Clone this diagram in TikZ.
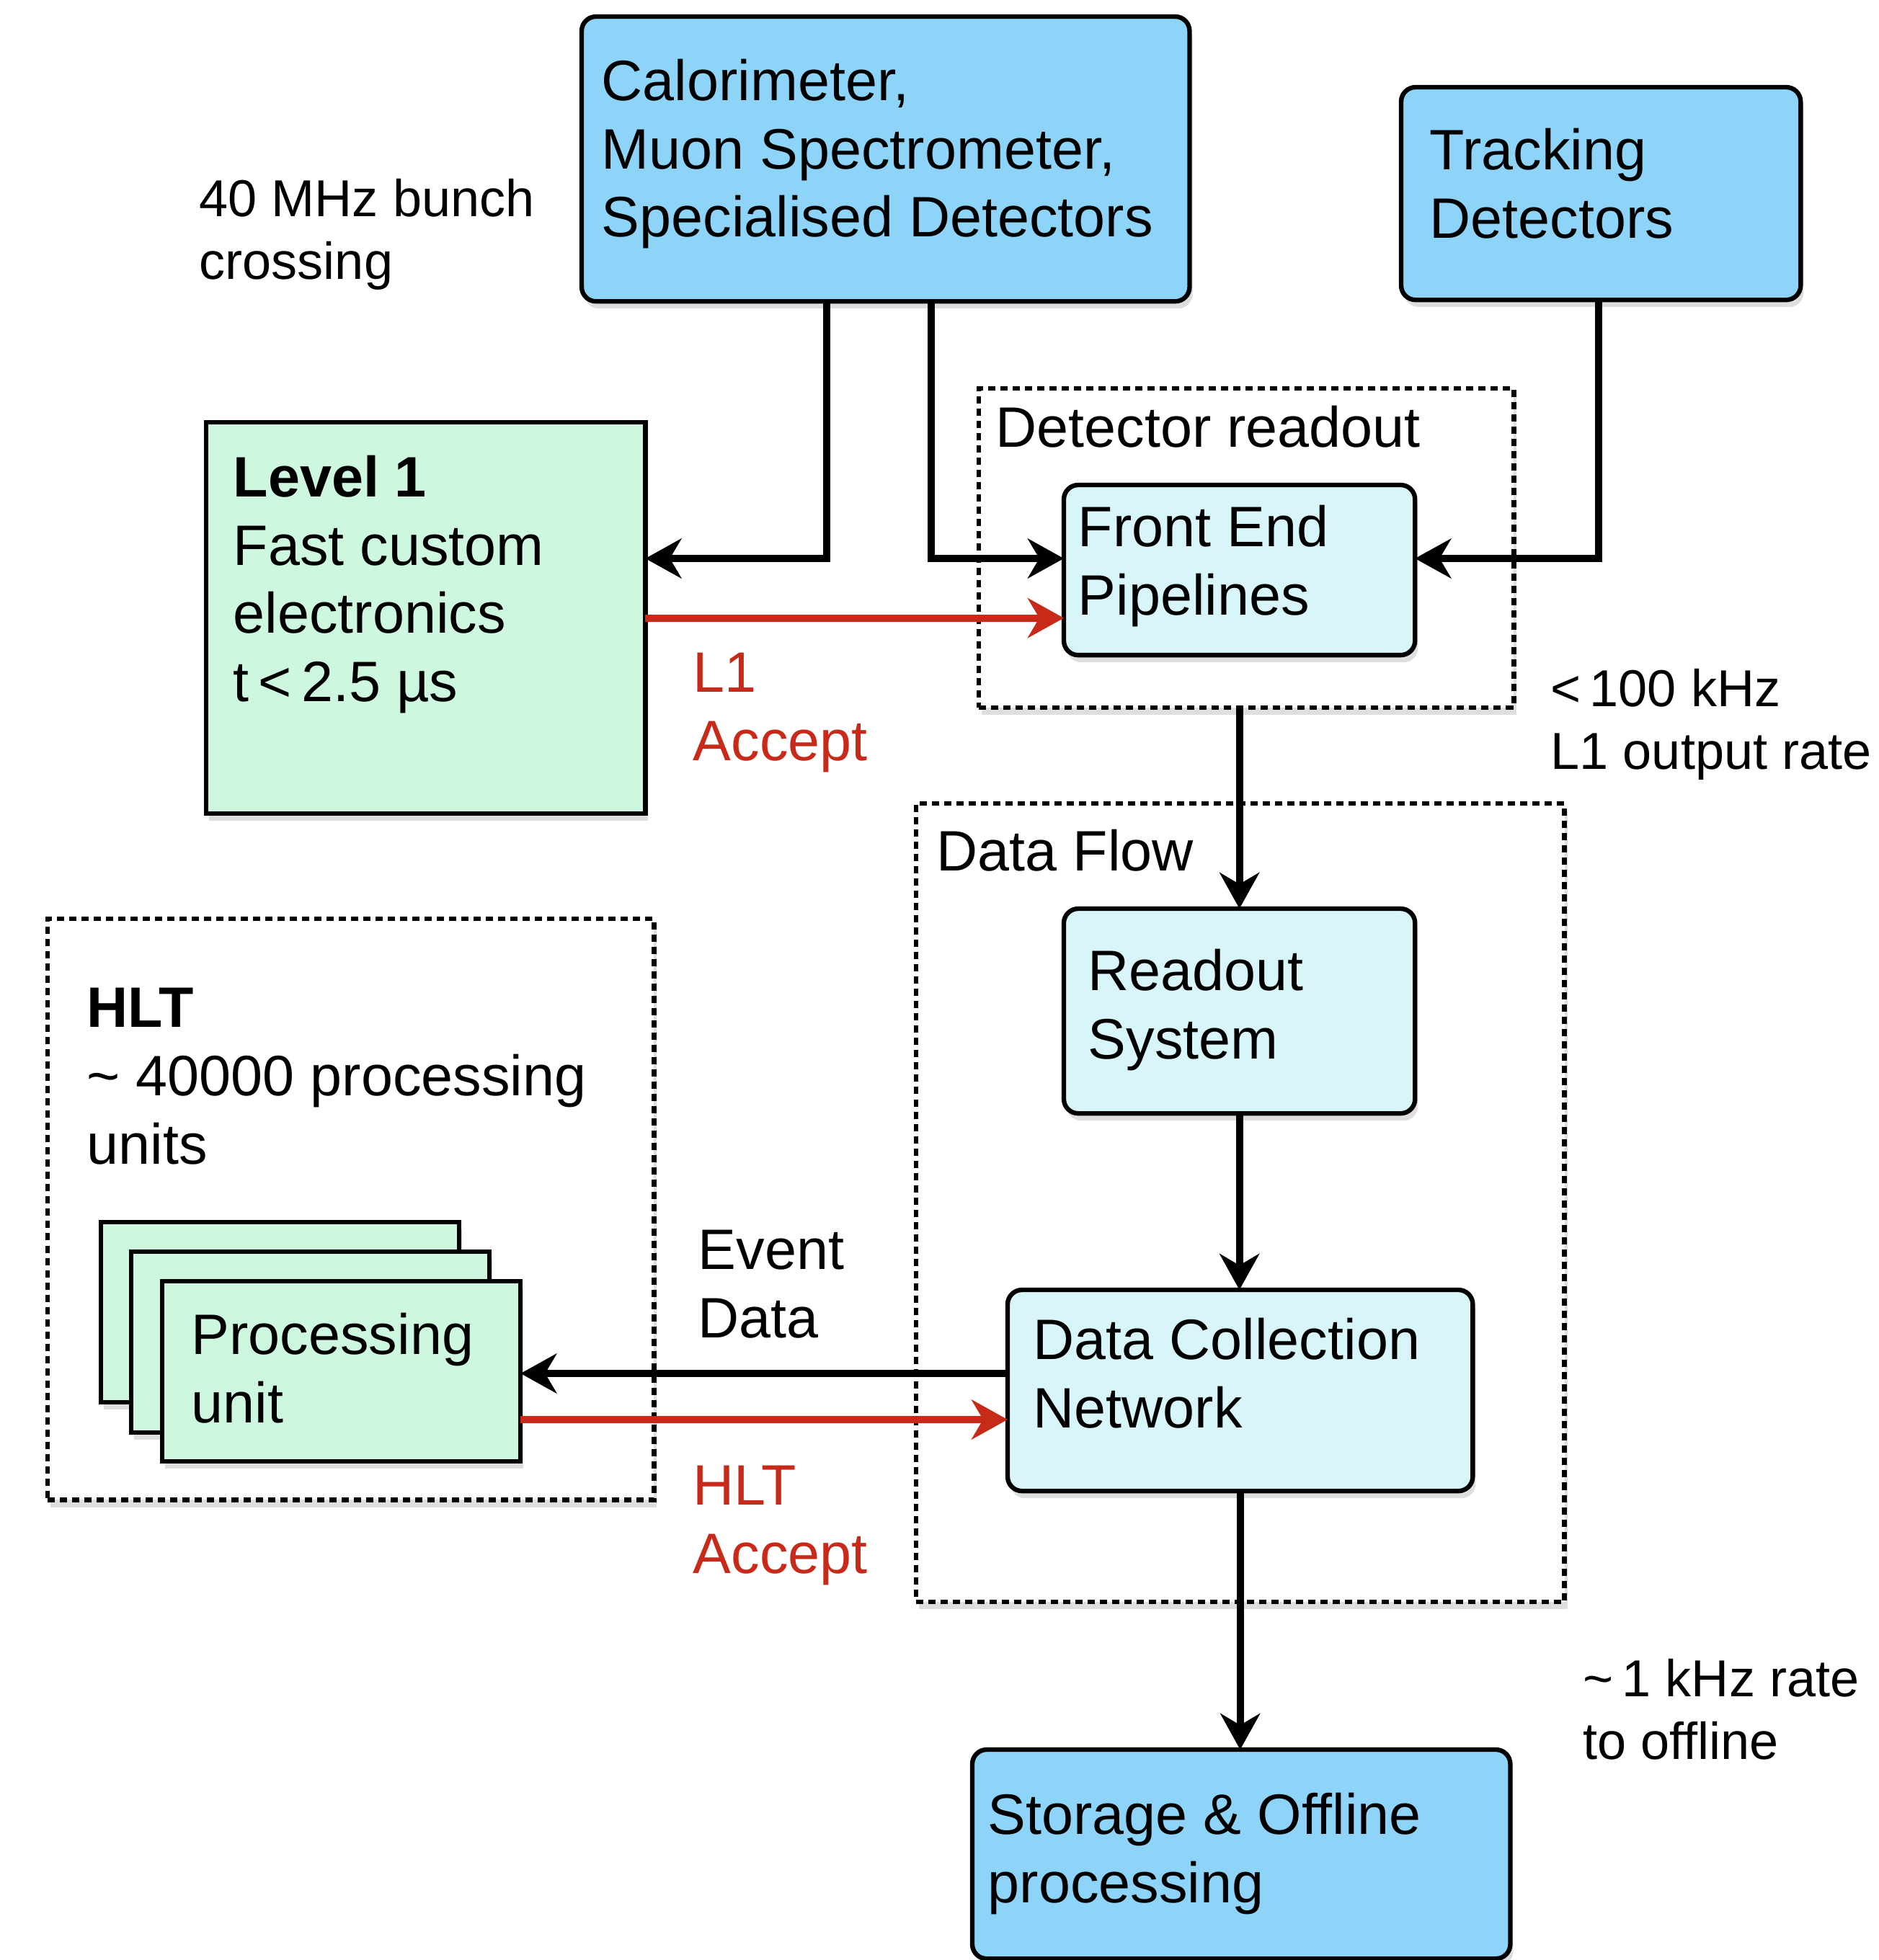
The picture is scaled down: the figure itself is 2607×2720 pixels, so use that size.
\documentclass[tikz,border=0pt]{standalone}
\usepackage{fontspec}
\setmainfont{Liberation Sans}
\usetikzlibrary{arrows.meta,shadows,calc}
\definecolor{skyA}{RGB}{142,212,249}
\definecolor{cyanA}{RGB}{216,246,250}
\definecolor{greenA}{RGB}{206,247,223}
\definecolor{redA}{RGB}{200,42,26}
\begin{document}
\begin{tikzpicture}[x=0.01cm,y=-0.01cm,
  shd/.style={drop shadow={shadow xshift=0.04cm,shadow yshift=-0.1cm,opacity=0.13,fill=black}},
  boxbase/.style={draw=black,line width=1.8pt,inner sep=0pt,outer sep=0pt,anchor=north west,shd},
  bluebox/.style={boxbase,rounded corners=0.2cm,fill=skyA},
  cyanbox/.style={boxbase,rounded corners=0.2cm,fill=cyanA},
  greenbox/.style={boxbase,fill=greenA},
  dashbox/.style={draw=black,line width=1.8pt,dash pattern=on 0.1cm off 0.07cm,fill=white,shd,inner sep=0pt,outer sep=0pt,anchor=north west},
  txt/.style={anchor=north west,inner sep=0pt,align=left,font=\fontsize{22.5}{27}\selectfont},
  ann/.style={anchor=north west,inner sep=0pt,align=left,font=\fontsize{20.5}{24.7}\selectfont},
  conn/.style={line width=2.8pt,-{Stealth[length=0.5cm,width=0.55cm,inset=0.16cm]}},
  redconn/.style={conn,draw=redA,color=redA},
]
\useasboundingbox (0,0) rectangle (2607,2720);
\fill[white] (0,0) rectangle (2607,2720);

% dashed groups
\node[dashbox,minimum width=7.42cm,minimum height=4.43cm] (dr) at (1358,539) {};
\node[dashbox,minimum width=8.99cm,minimum height=11.07cm] (df) at (1271,1115) {};
\node[dashbox,minimum width=8.41cm,minimum height=8.06cm] (hlt) at (66,1275) {};

% boxes
\node[bluebox,minimum width=8.43cm,minimum height=3.95cm] (cal) at (807,23) {};
\node[bluebox,minimum width=5.54cm,minimum height=2.95cm] (trk) at (1944,121) {};
\node[greenbox,minimum width=6.09cm,minimum height=5.43cm] (l1) at (286,586) {};
\node[cyanbox,minimum width=4.87cm,minimum height=2.36cm] (fe) at (1476,673) {};
\node[cyanbox,minimum width=4.87cm,minimum height=2.84cm] (ros) at (1476,1261) {};
\node[cyanbox,minimum width=6.45cm,minimum height=2.79cm] (dcn) at (1398,1790) {};
\node[greenbox,minimum width=4.97cm,minimum height=2.50cm] (pu3) at (140,1696) {};
\node[greenbox,minimum width=4.97cm,minimum height=2.51cm] (pu2) at (182,1737) {};
\node[greenbox,minimum width=4.97cm,minimum height=2.50cm] (pu1) at (225,1778) {};
\node[bluebox,minimum width=7.46cm,minimum height=2.90cm] (sto) at (1349,2428) {};

% texts
\node[txt] (calt) at (834,81) {Calorimeter,\\Muon Spectrometer,\\Specialised Detectors};
\node[txt] (trkt) at (1983,177) {Tracking\\Detectors};
\node[ann] (bx) at (276,248) {40 MHz bunch\\crossing};
\node[txt] (l1t) at (323,631) {\textbf{Level 1}\\Fast custom\\electronics\\t\,<\,2.5 µs};
\node[txt] (drt) at (1381,562) {Detector readout};
\node[txt] (fet) at (1495,700) {Front End\\Pipelines};
\node[txt,text=redA] (l1a) at (961,905) {L1\\Accept};
\node[ann] (r100) at (2151,928) {<\,100 kHz\\L1 output rate};
\node[txt] (dft) at (1299,1150) {Data Flow};
\node[txt] (rost) at (1509,1316) {Readout\\System};
\node[txt] (hltt) at (120,1370) {\textbf{HLT}\\\textasciitilde{} 40000 processing\\units};
\node[txt] (evd) at (968,1706) {Event\\Data};
\node[txt] (put) at (265,1821) {Processing\\unit};
\node[txt] (dcnt) at (1433,1828) {Data Collection\\Network};
\node[txt,text=redA] (hlta) at (961,2033) {HLT\\Accept};
\node[ann] (r1) at (2196,2302) {\textasciitilde\,1 kHz rate\\to offline};
\node[txt] (stot) at (1370,2487) {Storage \& Offline\\processing};

% connectors
\coordinate (jA) at (1147,775);
\coordinate (jB) at (1292,775);
\coordinate (jC) at (2218,775);
\coordinate (yE) at (0,1906);
\coordinate (yR) at (0,1970);
\draw[conn] (cal.south -| jA) -- (jA) -- (l1.east |- jA);
\draw[conn] (cal.south -| jB) -- (jB) -- (fe.west |- jB);
\draw[conn] (trk.south -| jC) -- (jC) -- (fe.east |- jC);
\draw[redconn] (l1.east) -- (fe.west |- l1.east);
\draw[conn] (ros.north |- dr.south) -- (ros.north);
\draw[conn] (ros.south) -- (ros.south |- dcn.north);
\draw[conn] (dcn.west |- yE) -- (pu1.east |- yE);
\draw[redconn] (pu1.east |- yR) -- (dcn.west |- yR);
\draw[conn] (dcn.south) -- (dcn.south |- sto.north);
\end{tikzpicture}
\end{document}
